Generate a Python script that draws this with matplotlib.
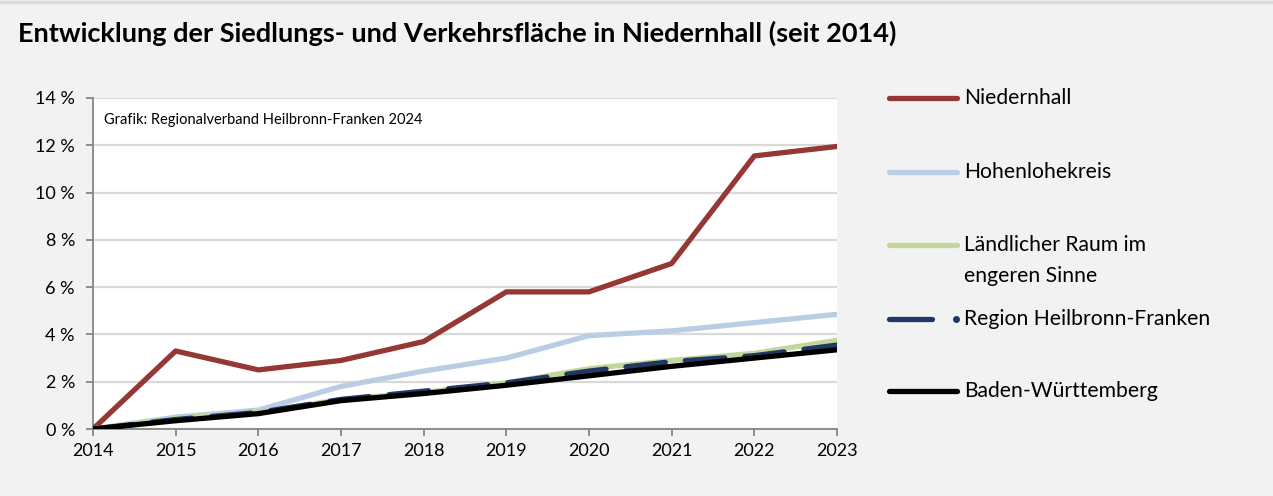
import matplotlib
matplotlib.use("Agg")
import matplotlib.pyplot as plt
from matplotlib.lines import Line2D
from matplotlib.ticker import FuncFormatter, MultipleLocator

# Zuwachs der Siedlungs- und Verkehrsfläche gegenüber 2014 in %
years = [2014, 2015, 2016, 2017, 2018, 2019, 2020, 2021, 2022, 2023]
niedernhall = [0.0, 3.3, 2.5, 2.9, 3.7, 5.8, 5.8, 7.0, 11.55, 11.95]
hohenlohekreis = [0.0, 0.5, 0.8, 1.8, 2.45, 3.0, 3.95, 4.15, 4.5, 4.85]
laendlicher_raum = [0.0, 0.45, 0.7, 1.25, 1.55, 1.95, 2.55, 2.9, 3.2, 3.75]
region_hnf = [0.0, 0.4, 0.7, 1.25, 1.6, 1.95, 2.45, 2.85, 3.1, 3.55]
baden_wuerttemberg = [0.0, 0.35, 0.65, 1.2, 1.5, 1.85, 2.25, 2.65, 3.0, 3.35]

labels = ["Niedernhall", "Hohenlohekreis", "Ländlicher Raum im\nengeren Sinne",
          "Region Heilbronn-Franken", "Baden-Württemberg"]
colors = ["#953735", "#b9cde5", "#c3d69b", "#1f3864", "#000000"]

plt.rcParams["font.family"] = ["Lato", "DejaVu Sans"]

W, H = 1273, 496
fig = plt.figure(figsize=(W / 100, H / 100), dpi=100, facecolor="#f2f2f2")

# Plotbereich in Pixeln
left, right, top, bottom = 93, 837, 98, 429
ax = fig.add_axes([left / W, 1 - bottom / H, (right - left) / W, (bottom - top) / H])
ax.set_facecolor("white")

lw = 3.8
series = [niedernhall, hohenlohekreis, laendlicher_raum, region_hnf, baden_wuerttemberg]
for i, data in enumerate(series):
    if i == 3:
        ax.plot(years, data, color=colors[i], lw=lw, dashes=(7.5, 3.8),
                dash_capstyle="round", zorder=3 + i)
    else:
        ax.plot(years, data, color=colors[i], lw=lw, solid_capstyle="round", zorder=3 + i)

ax.set_xlim(2014, 2023)
ax.set_ylim(0, 14)
ax.set_xticks(years)
ax.yaxis.set_major_locator(MultipleLocator(2))
ax.yaxis.set_major_formatter(FuncFormatter(lambda v, _: f"{v:.0f} %"))
ax.grid(axis="y", color="#d9d9d9", lw=1.6, zorder=0)
ax.set_axisbelow(True)

for s in ["top", "right"]:
    ax.spines[s].set_visible(False)
for s in ["left", "bottom"]:
    ax.spines[s].set_color("#868686")
    ax.spines[s].set_linewidth(1.3)
ax.tick_params(axis="both", colors="#868686", length=5, width=1.3, labelsize=13,
               labelcolor="black")
ax.tick_params(axis="x", pad=5)
ax.tick_params(axis="y", pad=8)

ax.text(0.015, 0.955, "Grafik: Regionalverband Heilbronn-Franken 2024",
        transform=ax.transAxes, fontsize=10.5, va="top", ha="left")

# Titel
fig.text(18 / W, 1 - 33 / H, "Entwicklung der Siedlungs- und Verkehrsfläche in Niedernhall (seit 2014)",
         fontsize=19.5, fontweight="bold", va="center", ha="left")

# oberer Rand
fig.add_artist(Line2D([0, 1], [1 - 2 / H, 1 - 2 / H], transform=fig.transFigure,
                      color="#dcdcdc", lw=2.5))

# Legende
legend_y = [98, 172, 245, 319, 391]
for i, y in enumerate(legend_y):
    yf = 1 - y / H
    if i == 3:
        fig.add_artist(Line2D([889 / W, 932 / W], [yf, yf], transform=fig.transFigure,
                              color=colors[i], lw=lw, solid_capstyle="round"))
        fig.add_artist(Line2D([956 / W], [yf], transform=fig.transFigure, ls="none",
                              marker="o", markersize=4, color=colors[i]))
    else:
        fig.add_artist(Line2D([889 / W, 957 / W], [yf, yf], transform=fig.transFigure,
                              color=colors[i], lw=lw, solid_capstyle="round"))
    txt = labels[i]
    fig.text(964 / W, yf, txt.split("\n")[0], fontsize=15.2, va="center", ha="left")
    if "\n" in txt:
        fig.text(964 / W, 1 - (y + 31) / H, txt.split("\n")[1], fontsize=15.2,
                 va="center", ha="left")

fig.savefig("out.png", dpi=100, facecolor=fig.get_facecolor())
